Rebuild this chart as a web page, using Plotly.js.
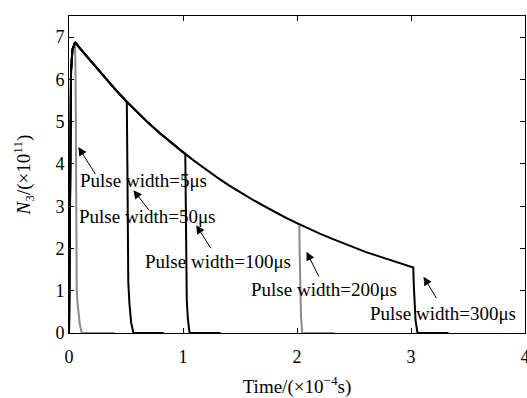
<!DOCTYPE html>
<html>
<head>
<meta charset="utf-8">
<script src="https://cdn.plot.ly/plotly-3.0.1.min.js"></script>
<style>html,body{margin:0;padding:0;background:#fff;}#chart{width:527px;height:398px;}</style>
</head>
<body>
<div id="chart"></div>
<script>
// Common N3 curve while pump is on (time in 1e-4 s, N3 in 1e11)
const timeCommon = [0, 0.01, 0.018, 0.03, 0.053, 0.1, 0.2, 0.3, 0.4, 0.5, 0.6, 0.7, 0.8, 0.9, 1.0,
  1.1, 1.2, 1.3, 1.4, 1.5, 1.6, 1.7, 1.8, 1.9, 2.0, 2.1, 2.2, 2.3, 2.4, 2.5, 2.6, 2.7, 2.8, 2.9, 3.0];
const n3Common   = [0, 3.0, 6.2, 6.7, 6.88, 6.72, 6.40, 6.08, 5.78, 5.49, 5.22, 4.96, 4.72, 4.49, 4.28,
  4.07, 3.87, 3.68, 3.50, 3.33, 3.17, 3.02, 2.87, 2.73, 2.60, 2.47, 2.35, 2.24, 2.13, 2.02, 1.92, 1.83, 1.74, 1.65, 1.57];

// Decay after pump switched off, per pulse width
const pulseLabels = ["Pulse width=5μs", "Pulse width=50μs", "Pulse width=100μs", "Pulse width=200μs", "Pulse width=300μs"];
const tail5Time   = [0.053, 0.058, 0.062, 0.065, 0.068, 0.075, 0.082, 0.095, 0.112, 0.4];
const tail5N3     = [6.88, 6.0, 4.4, 2.0, 1.0, 0.7, 0.54, 0.2, 0, 0];
const tail50Time  = [0.507, 0.512, 0.516, 0.52, 0.53, 0.545, 0.565, 0.83];
const tail50N3    = [5.47, 4.0, 2.0, 1.2, 0.7, 0.25, 0, 0];
const tail100Time = [1.02, 1.024, 1.028, 1.033, 1.042, 1.058, 1.33];
const tail100N3   = [4.24, 3.0, 1.6, 0.8, 0.35, 0, 0];
const tail200Time = [2.02, 2.024, 2.028, 2.035, 2.046, 2.33];
const tail200N3   = [2.57, 1.8, 1.0, 0.4, 0, 0];
const tail300Time = [3.02, 3.025, 3.03, 3.04, 3.057, 3.33];
const tail300N3   = [1.55, 1.1, 0.7, 0.3, 0, 0];

const xTicks = [0, 1, 2, 3, 4];
const yTicks = [0, 1, 2, 3, 4, 5, 6, 7];

function build(tt, tn) {
  const x = [], y = [];
  for (let i = 0; i < timeCommon.length; i++) {
    if (timeCommon[i] < tt[0]) { x.push(timeCommon[i]); y.push(n3Common[i]); }
  }
  return {x: x.concat(tt), y: y.concat(tn)};
}

const GRAY = '#8a8a8a', BLACK = '#000000';
const specs = [
  [tail5Time, tail5N3, GRAY, pulseLabels[0]],
  [tail200Time, tail200N3, GRAY, pulseLabels[3]],
  [tail50Time, tail50N3, BLACK, pulseLabels[1]],
  [tail100Time, tail100N3, BLACK, pulseLabels[2]],
  [tail300Time, tail300N3, BLACK, pulseLabels[4]]
];
const traces = specs.map(s => {
  const d = build(s[0], s[1]);
  return {x: d.x, y: d.y, type: 'scatter', mode: 'lines', name: s[3],
          line: {color: s[2], width: 2}, hoverinfo: 'skip'};
});

const FONT = 'Liberation Serif, Times New Roman, serif';
// text positions and arrow head/tail positions (data coords)
const textPos = [[0.657, 3.61], [0.686, 2.76], [1.305, 1.68], [2.233, 1.03], [3.283, 0.465]];
const arrowPos = [
  [0.082, 4.40, 0.243, 3.71],
  [0.565, 3.38, 0.712, 2.87],
  [1.116, 2.55, 1.255, 1.96],
  [2.084, 1.92, 2.200, 1.29],
  [3.110, 1.33, 3.233, 0.78]
];
const annotations = [];
pulseLabels.forEach((lab, i) => {
  annotations.push({x: textPos[i][0], y: textPos[i][1], xref: 'x', yref: 'y', text: lab,
    showarrow: false, font: {family: FONT, size: 19, color: '#000'}, xanchor: 'center', yanchor: 'middle'});
  const a = arrowPos[i];
  annotations.push({x: a[0], y: a[1], ax: a[2], ay: a[3], xref: 'x', yref: 'y', axref: 'x', ayref: 'y',
    text: ' ', font: {size: 1}, showarrow: true, arrowhead: 2, arrowsize: 1.7, arrowwidth: 1, arrowcolor: '#000', standoff: 0});
});

const layout = {
  width: 527, height: 398,
  margin: {l: 69, r: 2, t: 16, b: 65, pad: 0},
  paper_bgcolor: '#fff', plot_bgcolor: '#fff',
  showlegend: false,
  font: {family: FONT, size: 18, color: '#000'},
  xaxis: {range: [0, 4], tickvals: xTicks, ticktext: xTicks.map(String), ticks: 'inside', ticklen: 5,
    tickwidth: 1, tickcolor: '#000', showline: true, linecolor: '#000', linewidth: 1, mirror: 'ticks',
    showgrid: false, zeroline: false, tickfont: {family: FONT, size: 18}, ticklabeloverflow: 'allow',
    ticklabelstandoff: 7,
    title: {text: 'Time/(×10<sup>−4</sup>s)', font: {family: FONT, size: 19}, standoff: 19}},
  yaxis: {range: [0, 7.5], tickvals: yTicks, ticktext: yTicks.map(String), ticks: 'inside', ticklen: 5,
    tickwidth: 1, tickcolor: '#000', showline: true, linecolor: '#000', linewidth: 1, mirror: 'ticks',
    showgrid: false, zeroline: false, tickfont: {family: FONT, size: 18},
    title: {text: '<i>N</i><sub>3</sub>/(×10<sup>11</sup>)', font: {family: FONT, size: 19}, standoff: 19}},
  annotations: annotations
};

Plotly.newPlot('chart', traces, layout, {staticPlot: true, displayModeBar: false});
</script>
</body>
</html>
